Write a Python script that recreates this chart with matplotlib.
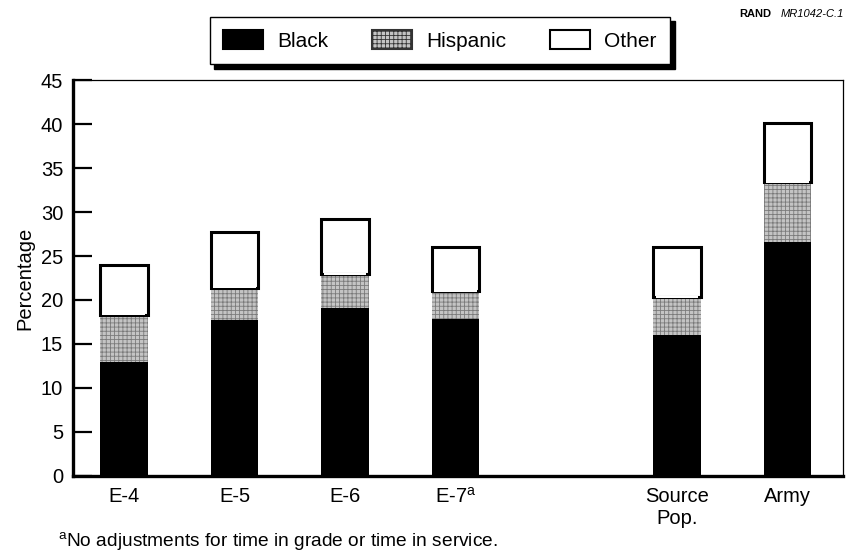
import numpy as np
import matplotlib
matplotlib.use("Agg")
import matplotlib.pyplot as plt
from matplotlib.patches import Patch

plt.rcParams['font.family'] = ['Liberation Sans', 'DejaVu Sans']
plt.rcParams['mathtext.fontset'] = 'custom'
plt.rcParams['mathtext.rm'] = 'Liberation Sans'
plt.rcParams['hatch.color'] = '#7a7a7a'
plt.rcParams['hatch.linewidth'] = 0.6

# data (percent)
categories = ['E-4', 'E-5', 'E-6', 'E-7$^{\\mathrm{a}}$', 'Source\nPop.', 'Army']
positions = [0, 1, 2, 3, 5, 6]
black = [13.0, 17.7, 19.1, 17.8, 16.0, 26.6]
hispanic = [5.3, 3.7, 3.8, 3.2, 4.3, 6.8]
other = [5.7, 6.3, 6.3, 5.0, 5.7, 6.7]

fig = plt.figure(figsize=(8.48, 5.56), dpi=100)
ax = fig.add_axes([0.086, 0.144, 0.908, 0.712])

x = np.array(positions)
black_a = np.array(black)
hisp_a = np.array(hispanic)
other_a = np.array(other)
w = 0.43

ax.bar(x, black_a, w, color='black', linewidth=0)
ax.bar(x, hisp_a, w, bottom=black_a, facecolor='#c4c4c4', hatch='++++', linewidth=0)
ax.bar(x, other_a, w, bottom=black_a + hisp_a, facecolor='white', edgecolor='black', linewidth=2.2)
# thin white gap between the Other box and the shaded part
ax.bar(x, [0.25] * len(x), w * 0.9, bottom=black_a + hisp_a - 0.05, color='white', linewidth=0)

ax.set_xlim(-0.46, 6.5)
ax.set_ylim(0, 45)
ax.set_yticks(np.arange(0, 46, 5))
ax.set_xticks(positions)
ax.set_xticklabels(categories, fontsize=14.5)
ax.tick_params(axis='y', direction='in', length=13.5, width=1.6, labelsize=14.5, pad=7)
ax.tick_params(axis='x', length=0, pad=8)
ax.set_ylabel('Percentage', fontsize=14.5, labelpad=5)

ax.spines['left'].set_linewidth(2.4)
ax.spines['bottom'].set_linewidth(2.4)
ax.spines['top'].set_linewidth(0.9)
ax.spines['right'].set_linewidth(0.9)

handles = [
    Patch(facecolor='black', edgecolor='black', linewidth=1.5, label='Black'),
    Patch(facecolor='#c4c4c4', edgecolor='#333333', hatch='++++', linewidth=1.5, label='Hispanic'),
    Patch(facecolor='white', edgecolor='black', linewidth=1.5, label='Other'),
]
leg = fig.legend(handles=handles, loc='center', bbox_to_anchor=(0.519, 0.927), ncol=3,
                 fontsize=15, frameon=True, fancybox=False, edgecolor='black',
                 shadow={'color': 'black', 'alpha': 1.0, 'ox': 3, 'oy': -3},
                 handlelength=1.9, handleheight=1.0, columnspacing=2.1,
                 borderpad=0.65, handletextpad=0.7, borderaxespad=0)
leg.get_frame().set_linewidth(1.0)

fig.text(0.872, 0.974, 'RAND', fontsize=8, fontweight='bold', ha='left', va='center')
fig.text(0.921, 0.974, 'MR1042-C.1', fontsize=8, style='italic', ha='left', va='center')

fig.text(0.068, 0.025, '$^{\\mathrm{a}}$No adjustments for time in grade or time in service.',
         fontsize=13.8, ha='left', va='center')

fig.savefig('out.png', dpi=100)
